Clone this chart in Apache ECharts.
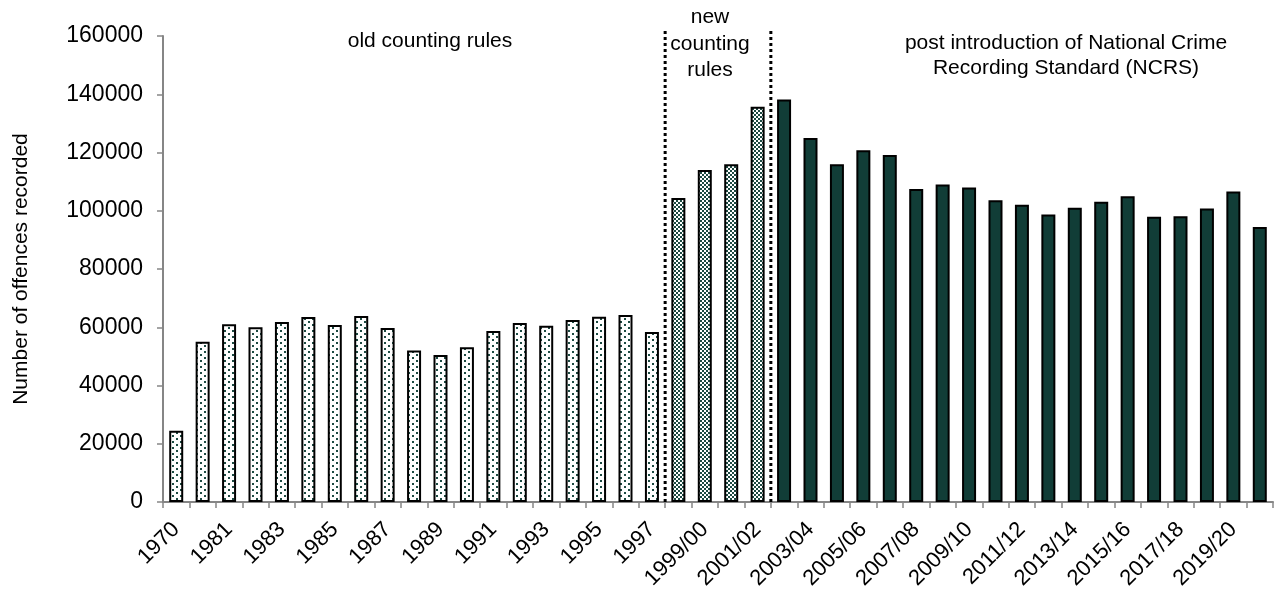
<!DOCTYPE html>
<html>
<head>
<meta charset="utf-8">
<script src="https://cdn.jsdelivr.net/npm/echarts@6/dist/echarts.min.js"></script>
<style>
html,body{margin:0;padding:0;background:#fff;}
#chart{width:1274px;height:591px;}
</style>
</head>
<body>
<div id="chart"></div>
<script>
// ---- data ----
const oldRulesYears = ['1970','1980','1981','1982','1983','1984','1985','1986','1987','1988','1989','1990','1991','1992','1993','1994','1995','1996','1997'];
const oldRulesValues = [24500,55000,61000,60000,61800,63500,60800,63900,59700,52000,50500,53100,58700,61500,60500,62500,63600,64200,58400];
const newRulesYears = ['1998/99','1999/00','2000/01','2001/02'];
const newRulesValues = [104400,114000,116000,135700];
const ncrsYears = ['2002/03','2003/04','2004/05','2005/06','2006/07','2007/08','2008/09','2009/10','2010/11','2011/12','2012/13','2013/14','2014/15','2015/16','2016/17','2017/18','2018/19','2019/20','2020/21'];
const ncrsValues = [138200,125000,116000,120800,119100,107500,109000,108000,103600,102100,98700,101000,103100,105000,97900,98100,100800,106600,94400];
const yTicks = {min:0, max:160000, interval:20000};
const dividerPositions = [19, 23]; // category boundaries (old|new, new|NCRS)
const annotationOld = 'old counting rules';
const annotationNew = 'new\ncounting\nrules';
const annotationNcrs = 'post introduction of National Crime\nRecording Standard (NCRS)';
const yAxisTitle = 'Number of offences recorded';

// ---- patterns ----
function pattern(kind){
  const c = document.createElement('canvas');
  const ctx = c.getContext('2d');
  const dot = '#1c4a42';
  if(kind==='old'){
    c.width=8; c.height=6;
    ctx.fillStyle='#fff'; ctx.fillRect(0,0,8,6);
    ctx.fillStyle=dot; ctx.fillRect(0,0,2,2); ctx.fillRect(4,3,2,2);
  } else {
    c.width=4; c.height=4;
    ctx.fillStyle='#fff'; ctx.fillRect(0,0,4,4);
    ctx.fillStyle=dot; ctx.fillRect(0,0,2,2); ctx.fillRect(2,2,2,2);
  }
  return {image:c, repeat:'repeat'};
}
const oldFill = pattern('old');
const newFill = pattern('new');
const darkFill = '#113d37';

const categories = oldRulesYears.concat(newRulesYears, ncrsYears);
const barData = [];
oldRulesValues.forEach(v=>barData.push({value:v, itemStyle:{color:oldFill}}));
newRulesValues.forEach(v=>barData.push({value:v, itemStyle:{color:newFill}}));
ncrsValues.forEach(v=>barData.push({value:v, itemStyle:{color:darkFill}}));

const FONT = '"Liberation Sans", Arial, sans-serif';
const chart = echarts.init(document.getElementById('chart'), null, {renderer:'canvas'});
const dividerSeries = dividerPositions.map(p=>({
  type:'line', xAxisIndex:1, yAxisIndex:0, clip:false, silent:true,
  symbol:'none', animation:false,
  data:[[p,0],[p,162000]],
  lineStyle:{color:'#000', width:3, type:[3,3]}
}));

chart.setOption({
  animation:false,
  backgroundColor:'#fff',
  textStyle:{fontFamily:FONT},
  grid:{left:163, right:1, top:36, bottom:89, containLabel:false, outerBoundsMode:'none'},
  xAxis:[{
    type:'category', data:categories, boundaryGap:true,
    axisLine:{lineStyle:{color:'#868686', width:2}},
    axisTick:{show:true, interval:0, length:6, lineStyle:{color:'#868686', width:1.5}},
    axisLabel:{interval:1, rotate:45, margin:24, color:'#000', fontSize:22, fontFamily:FONT},
    splitLine:{show:false}
  },{
    type:'value', min:0, max:42, show:false
  }],
  yAxis:[{
    type:'value', min:yTicks.min, max:yTicks.max, interval:yTicks.interval,
    name:yAxisTitle, nameLocation:'middle', nameGap:131, nameRotate:90,
    nameTextStyle:{fontSize:21, color:'#000', fontFamily:FONT},
    axisLine:{show:true, lineStyle:{color:'#868686', width:2}},
    axisTick:{show:true, length:6, lineStyle:{color:'#868686', width:1.5}},
    axisLabel:{color:'#000', fontSize:23, margin:20, fontFamily:FONT, formatter:v=>String(v)},
    splitLine:{show:false}
  }],
  series:[{
    type:'bar', xAxisIndex:0, yAxisIndex:0, barWidth:14,
    data:barData,
    itemStyle:{borderColor:'#000', borderWidth:2}
  }].concat(dividerSeries),
  graphic:[
    {type:'text', style:{text:annotationOld, x:430, y:41, textAlign:'center', textVerticalAlign:'middle', font:'21px '+FONT, fill:'#000'}},
    {type:'text', style:{text:annotationNew, x:710, y:44, textAlign:'center', textVerticalAlign:'middle', font:'21px '+FONT, lineHeight:26.5, fill:'#000'}},
    {type:'text', style:{text:annotationNcrs, x:1066, y:56, textAlign:'center', textVerticalAlign:'middle', font:'21px '+FONT, lineHeight:25, fill:'#000'}}
  ]
});
</script>
</body>
</html>
